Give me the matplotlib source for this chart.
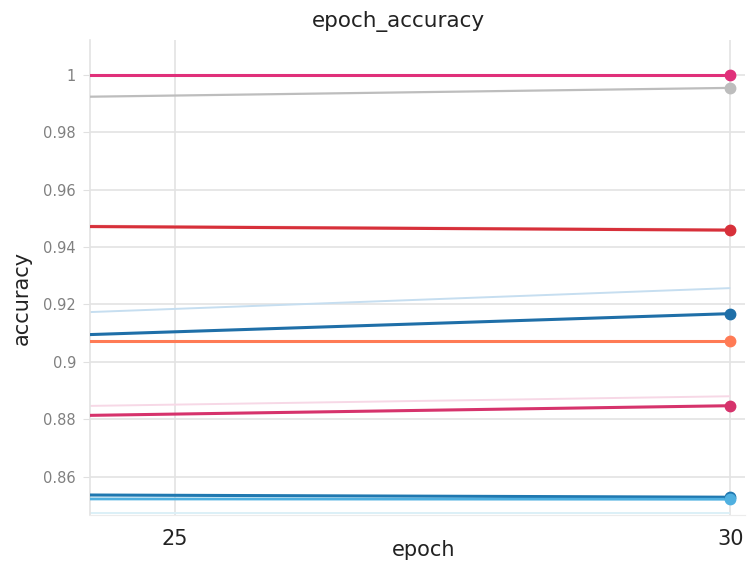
import matplotlib
matplotlib.use("Agg")
import matplotlib.pyplot as plt

# Epoch range shown and the per-run accuracy at the two ends of the window
epochs = [24, 30]

runs_smoothed = {
    "run_pink":   ([1.0000, 1.0000], "#e0307a", 2.2),
    "run_grey":   ([0.9923, 0.9955], "#bdbdbd", 1.6),
    "run_red":    ([0.9472, 0.9459], "#d7303a", 2.2),
    "run_blue":   ([0.9092, 0.9168], "#1f6fa8", 2.2),
    "run_orange": ([0.9072, 0.9072], "#ff7b55", 2.2),
    "run_magenta":([0.8812, 0.8847], "#d6336c", 2.2),
    "run_teal":   ([0.8536, 0.8528], "#1f78b0", 2.2),
    "run_cyan":   ([0.8522, 0.8521], "#4fb0e0", 2.0),
}

# Faint raw (unsmoothed) traces drawn behind the smoothed ones
runs_raw = {
    "raw_blue":   ([0.9170, 0.9257], "#c6def0"),
    "raw_pink":   ([0.8845, 0.8880], "#f7d8e6"),
    "raw_cyan":   ([0.8472, 0.8472], "#dcf0f7"),
    "raw_red":    ([0.9475, 0.9462], "#f3c2c2"),
}

x_ticks = [25, 30]
y_ticks = [0.86, 0.88, 0.9, 0.92, 0.94, 0.96, 0.98, 1]
y_tick_labels = ["0.86", "0.88", "0.9", "0.92", "0.94", "0.96", "0.98", "1"]

fig = plt.figure(figsize=(7.5, 5.68), dpi=100)
ax = fig.add_axes([0.12, 0.0933, 0.873, 0.8363])

for vals, color in runs_raw.values():
    ax.plot(epochs, vals, color=color, lw=1.4, zorder=2, solid_capstyle="butt")

for vals, color, lw in runs_smoothed.values():
    ax.plot(epochs, vals, color=color, lw=lw, zorder=3, solid_capstyle="butt")
    ax.plot(epochs[-1], vals[-1], "o", color=color, ms=7.5, zorder=4, clip_on=False)

ax.set_xlim(24.236, 30.13)
ax.set_ylim(0.8466, 1.0122)

ax.set_xticks(x_ticks)
ax.set_xticklabels([str(t) for t in x_ticks], fontsize=15, color="#222222")
ax.set_yticks(y_ticks)
ax.set_yticklabels(y_tick_labels, fontsize=10.5, color="#808080")

ax.tick_params(axis="x", length=0, pad=10)
ax.tick_params(axis="y", length=5, color="#e0e0e0", pad=5)

ax.grid(True, color="#e3e3e3", lw=1.2, zorder=0)
for side in ("top", "right"):
    ax.spines[side].set_visible(False)
ax.spines["left"].set_color("#e3e3e3")
ax.spines["bottom"].set_color("#ececec")
ax.spines["left"].set_linewidth(1.2)

fig.text(398 / 750, 1 - 22 / 568, "epoch_accuracy", fontsize=15.5,
         color="#222222", ha="center", va="center")
ax.set_xlabel("epoch", fontsize=15, color="#222222")
ax.xaxis.set_label_coords((424 - 90) / 655, -(550 - 515) / 475)
ax.xaxis.label.set_va("center")
ax.set_ylabel("accuracy", fontsize=15, color="#222222")
ax.yaxis.set_label_coords(-(90 - 22) / 655, (515 - 298) / 475)
ax.yaxis.label.set_va("center")

fig.savefig("out.png", dpi=100, facecolor="white")
